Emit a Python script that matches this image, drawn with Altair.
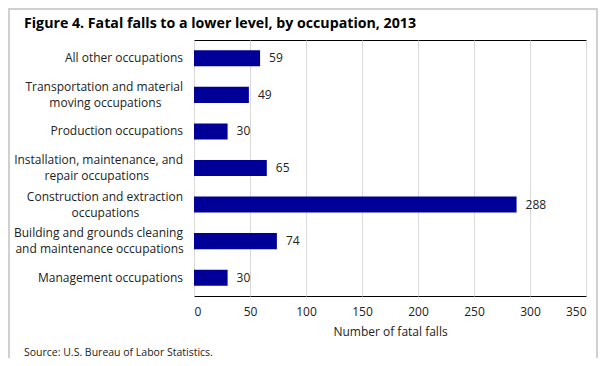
import altair as alt
import pandas as pd

categories = [
    "All other occupations",
    "Transportation and material\nmoving occupations",
    "Production occupations",
    "Installation, maintenance, and\nrepair occupations",
    "Construction and extraction\noccupations",
    "Building and grounds cleaning\nand maintenance occupations",
    "Management occupations",
]
values = [59, 49, 30, 65, 288, 74, 30]
x_ticks = [0, 50, 100, 150, 200, 250, 300, 350]

title_text = "Figure 4. Fatal falls to a lower level, by occupation, 2013"
source_text = "Source: U.S. Bureau of Labor Statistics."
x_title = "Number of fatal falls"

FONT = "Open Sans"
TXT = "#222222"
CHAR_W = 5.75  # approx average glyph width at 12px, for centering the second line
LABEL_X = -11

df = pd.DataFrame({"cat": categories, "val": values})
df["line1"] = df["cat"].str.split("\n").str[0]
df["line2"] = df["cat"].str.split("\n").str[1].fillna("")

W, H = 392, 256

y_scale = alt.Scale(paddingInner=0.56, paddingOuter=0.28)
y_enc = alt.Y("cat:N", sort=categories, title=None, scale=y_scale, axis=None)
y_plain = alt.Y("cat:N", sort=categories)
x_enc = alt.X(
    "val:Q",
    scale=alt.Scale(domain=[0, 350], nice=False),
    axis=alt.Axis(
        values=x_ticks,
        title=x_title,
        titleFont=FONT,
        titleFontSize=12,
        titleFontWeight="normal",
        titleColor=TXT,
        titlePadding=9,
        labelFont=FONT,
        labelFontSize=12,
        labelColor=TXT,
        labelPadding=10,
        ticks=False,
        domain=False,
        grid=True,
        gridColor="#d9d9d9",
    ),
)

bars = alt.Chart(df).mark_bar(color="#000099").encode(x=x_enc, y=y_enc)
labels = alt.Chart(df).mark_text(
    align="left", baseline="middle", dx=9, font=FONT, fontSize=12, color=TXT
).encode(x="val:Q", y=y_plain, text="val:Q")

cat_one = alt.Chart(df).transform_filter("datum.line2 == ''").mark_text(
    align="right", baseline="middle", font=FONT, fontSize=12, color=TXT
).encode(x=alt.value(LABEL_X), y=y_plain, text="line1:N")

cat_top = alt.Chart(df).transform_filter("datum.line2 != ''").mark_text(
    align="right", baseline="middle", font=FONT, fontSize=12, color=TXT, dy=-8
).encode(x=alt.value(LABEL_X), y=y_plain, text="line1:N")

cat_bottom = alt.Chart(df).transform_filter("datum.line2 != ''").transform_calculate(
    px=f"{LABEL_X} - length(datum.line1) * {CHAR_W} / 2"
).mark_text(
    align="center", baseline="middle", font=FONT, fontSize=12, color=TXT, dy=8
).encode(x=alt.X("px:Q", scale=None), y=y_plain, text="line2:N")

title = alt.Chart(pd.DataFrame({"t": [title_text]})).mark_text(
    align="left", baseline="alphabetic", font=FONT, fontSize=14.2, fontWeight="bold", color="#000000"
).encode(x=alt.value(-170), y=alt.value(-12), text="t:N")

source = alt.Chart(pd.DataFrame({"t": [source_text]})).mark_text(
    align="left", baseline="alphabetic", font=FONT, fontSize=10.5, color=TXT
).encode(x=alt.value(-170), y=alt.value(316), text="t:N")

frame = alt.Chart(pd.DataFrame({"a": [0]})).mark_rect(
    fill=None, stroke="#d0d0d0", strokeWidth=2
).encode(x=alt.value(-185), x2=alt.value(403), y=alt.value(-31), y2=alt.value(329))

chart = alt.layer(bars, labels, cat_one, cat_top, cat_bottom, title, source, frame).properties(
    width=W,
    height=H,
    padding={"left": 186, "top": 32, "right": 12, "bottom": 62},
    autosize=alt.AutoSizeParams(type="none"),
    background="white",
).configure_view(stroke="#000000", strokeWidth=1)

chart.save("out.html", embed_options={"renderer": "svg", "actions": False})
